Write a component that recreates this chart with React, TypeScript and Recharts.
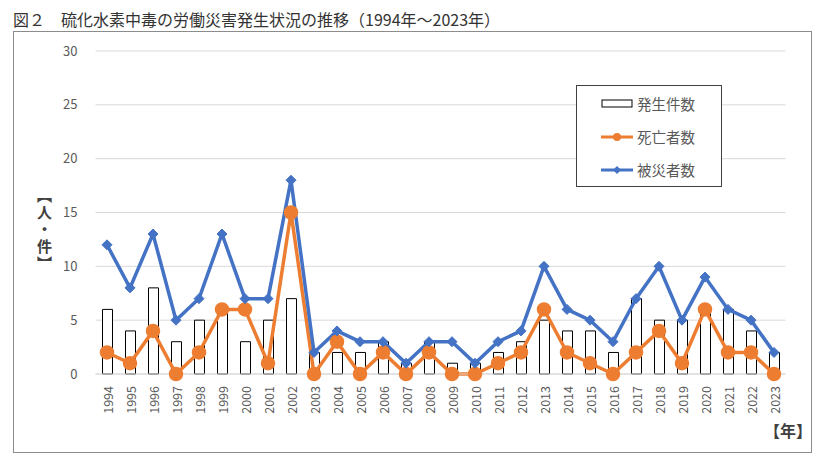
import {
  ComposedChart,
  Bar,
  Line,
  XAxis,
  YAxis,
  CartesianGrid,
} from "recharts";

const years = [
  "1994", "1995", "1996", "1997", "1998", "1999", "2000", "2001", "2002", "2003",
  "2004", "2005", "2006", "2007", "2008", "2009", "2010", "2011", "2012", "2013",
  "2014", "2015", "2016", "2017", "2018", "2019", "2020", "2021", "2022", "2023",
];
const hassei = [6, 4, 8, 3, 5, 6, 3, 5, 7, 2, 2, 2, 3, 1, 3, 1, 1, 2, 3, 5, 4, 4, 2, 7, 5, 5, 6, 6, 4, 2];
const shibou = [2, 1, 4, 0, 2, 6, 6, 1, 15, 0, 3, 0, 2, 0, 2, 0, 0, 1, 2, 6, 2, 1, 0, 2, 4, 1, 6, 2, 2, 0];
const hisai = [12, 8, 13, 5, 7, 13, 7, 7, 18, 2, 4, 3, 3, 1, 3, 3, 1, 3, 4, 10, 6, 5, 3, 7, 10, 5, 9, 6, 5, 2];
const yTicks = [0, 5, 10, 15, 20, 25, 30];

const data = years.map((y, i) => ({
  year: y,
  hassei: hassei[i],
  shibou: shibou[i],
  hisai: hisai[i],
}));

const FONT = "'Noto Sans CJK JP', 'Noto Sans', sans-serif";
const ORANGE = "#ED7D31";
const BLUE = "#4472C4";

const YearTick = (props: any) => {
  const { x, y, payload } = props;
  return (
    <text
      x={x}
      y={y + 4}
      transform={`rotate(-90, ${x}, ${y + 4})`}
      textAnchor="end"
      dominantBaseline="central"
      fontSize={12.5}
      fill="#595959"
      fontFamily={FONT}
    >
      {payload.value}
    </text>
  );
};

const Diamond = (props: any) => {
  const { cx, cy } = props;
  if (cx == null || cy == null) return null;
  const s = 5;
  return (
    <polygon
      points={`${cx},${cy - s} ${cx + s},${cy} ${cx},${cy + s} ${cx - s},${cy}`}
      fill={BLUE}
      stroke={BLUE}
    />
  );
};

// legend drawn as plain html, placed inside the plot like the original
const LegendBox = () => {
  const row = { display: "flex", alignItems: "center", height: 33 } as const;
  const label = { marginLeft: 4, fontSize: 14.5, color: "#595959" };
  return (
    <div
      style={{
        position: "absolute",
        left: 576,
        top: 85,
        width: 146,
        height: 102,
        border: "1.5px solid #404040",
        boxSizing: "border-box",
        background: "#fff",
        paddingLeft: 24,
        paddingTop: 1,
      }}
    >
      <div style={row}>
        <svg width={32} height={12}>
          <rect x={1} y={2} width={30} height={7} fill="#fff" stroke="#000" />
        </svg>
        <span style={label}>発生件数</span>
      </div>
      <div style={row}>
        <svg width={32} height={12}>
          <line x1={0} y1={6} x2={32} y2={6} stroke={ORANGE} strokeWidth={3} />
          <circle cx={16} cy={6} r={4} fill={ORANGE} />
        </svg>
        <span style={label}>死亡者数</span>
      </div>
      <div style={row}>
        <svg width={32} height={12}>
          <line x1={0} y1={6} x2={32} y2={6} stroke={BLUE} strokeWidth={3} />
          <polygon points="16,2 20,6 16,10 12,6" fill={BLUE} />
        </svg>
        <span style={label}>被災者数</span>
      </div>
    </div>
  );
};

export default function App() {
  return (
    <div
      style={{
        position: "fixed",
        left: 0,
        top: 0,
        width: 823,
        height: 469,
        background: "#fff",
        fontFamily: FONT,
      }}
    >
      <div
        style={{
          position: "absolute",
          left: 13,
          top: 7,
          fontSize: 16,
          color: "#333",
          whiteSpace: "nowrap",
        }}
      >
        図２　硫化水素中毒の労働災害発生状況の推移（1994年～2023年）
      </div>
      <div
        style={{
          position: "absolute",
          left: 13,
          top: 31,
          width: 799,
          height: 422,
          border: "1px solid #8c8c8c",
          boxSizing: "border-box",
        }}
      />
      <div style={{ position: "absolute", left: 0, top: 0 }}>
        <ComposedChart
          width={823}
          height={469}
          data={data}
          margin={{ top: 51, right: 37.5, bottom: 55, left: 55.5 }}
          barCategoryGap={0}
        >
          <CartesianGrid vertical={false} stroke="#d9d9d9" />
          <XAxis
            dataKey="year"
            interval={0}
            tick={<YearTick />}
            tickLine={false}
            axisLine={{ stroke: "#d9d9d9" }}
            height={40}
          />
          <YAxis
            domain={[0, 30]}
            ticks={yTicks}
            width={40}
            tickLine={false}
            axisLine={false}
            tick={{ fontSize: 13, fill: "#595959", fontFamily: FONT }}
            tickMargin={12}
          />
          <Bar
            dataKey="hassei"
            name="発生件数"
            barSize={10}
            fill="#fff"
            stroke="#000"
            strokeWidth={1}
            isAnimationActive={false}
          />
          <Line
            dataKey="shibou"
            name="死亡者数"
            stroke={ORANGE}
            strokeWidth={3.5}
            dot={{ r: 5.5, fill: ORANGE, stroke: ORANGE }}
            activeDot={false}
            isAnimationActive={false}
          />
          <Line
            dataKey="hisai"
            name="被災者数"
            stroke={BLUE}
            strokeWidth={3.5}
            dot={<Diamond />}
            activeDot={false}
            isAnimationActive={false}
          />
        </ComposedChart>
      </div>
      <LegendBox />
      <div
        style={{
          position: "absolute",
          left: 34,
          top: 188,
          writingMode: "vertical-rl",
          fontSize: 15,
          fontWeight: "bold",
          color: "#404040",
          letterSpacing: 2,
        }}
      >
        【人・件】
      </div>
      <div
        style={{
          position: "absolute",
          left: 764,
          top: 418,
          fontSize: 16,
          fontWeight: "bold",
          color: "#404040",
          whiteSpace: "nowrap",
        }}
      >
        【年】
      </div>
    </div>
  );
}
